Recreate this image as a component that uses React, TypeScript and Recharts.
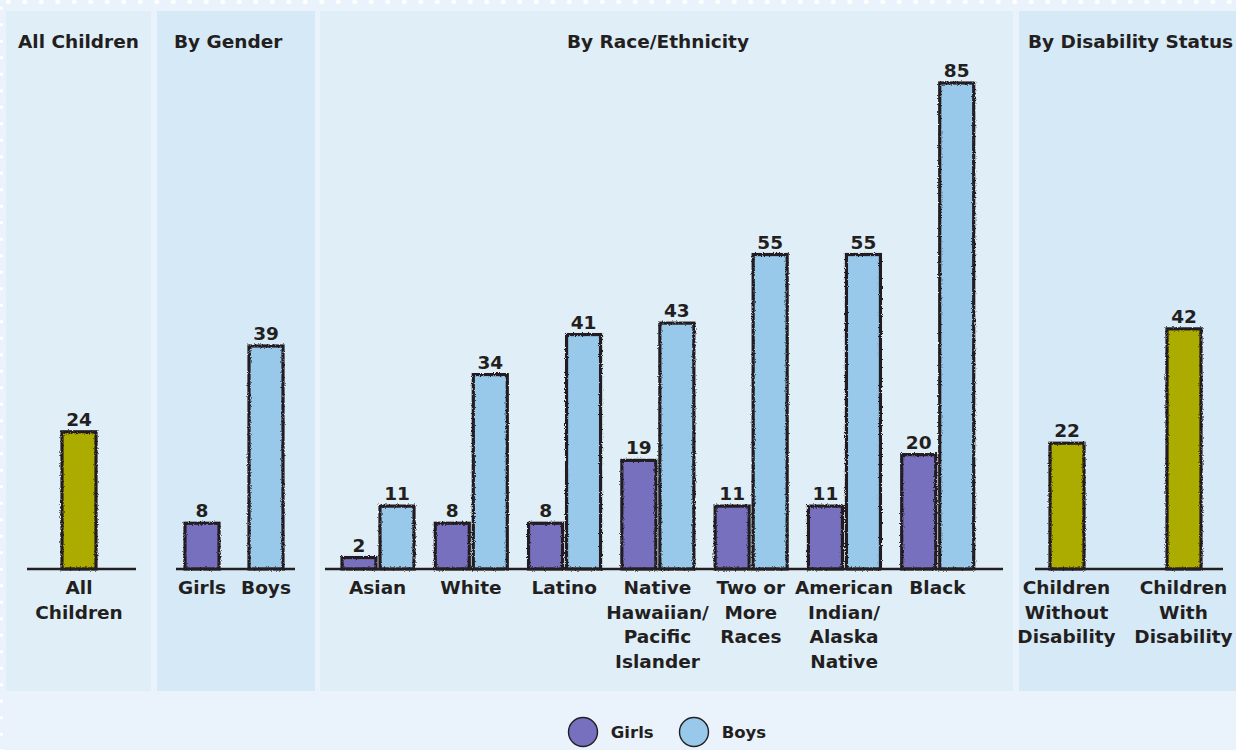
import React from 'react';
import { BarChart, Bar, XAxis, YAxis, Cell, LabelList, Legend } from 'recharts';

const allLabels = ['All\nChildren'];
const allValues = [24];

const genderLabels = ['Girls', 'Boys'];
const genderValues = [8, 39];

const raceLabels = [
  'Asian',
  'White',
  'Latino',
  'Native\nHawaiian/\nPacific\nIslander',
  'Two or\nMore\nRaces',
  'American\nIndian/\nAlaska\nNative',
  'Black',
];
const raceGirls = [2, 8, 8, 19, 11, 11, 20];
const raceBoys = [11, 34, 41, 43, 55, 55, 85];

const disabilityLabels = ['Children\nWithout\nDisability', 'Children\nWith\nDisability'];
const disabilityValues = [22, 42];

const OLIVE = '#abab00';
const PURPLE = '#7670bf';
const BLUE = '#98c9ea';
const INK = '#231f20';
const FONT = '"DejaVu Sans", Verdana, sans-serif';

const PANEL_LIGHT = '#e0eef8';
const PANEL_DARK = '#d6e9f7';

// shared vertical geometry so every panel sits on the same baseline
const CHART_H = 750;
const TOP = 83;
const BOTTOM = 151; // + 30px x-axis band = baseline at y 569
const DOMAIN: [number, number] = [0, 85];

const valueLabelStyle = { fontFamily: FONT, fontSize: 18.5, fontWeight: 700, fill: INK };

// filled bar with a roughened ink outline
const SketchBar = (props: any) => {
  const { x, y, width, height, fill } = props;
  if (width == null || height == null) return null;
  return (
    <g>
      <rect x={x} y={y} width={width} height={height} fill={fill} />
      <rect
        x={x}
        y={y}
        width={width}
        height={height}
        fill="none"
        stroke={INK}
        strokeWidth={3.2}
        filter="url(#sketchy)"
      />
    </g>
  );
};

const MultiLineTick = (props: any) => {
  const { x, y, payload } = props;
  const lines = String(payload.value).split('\n');
  return (
    <text
      x={x}
      y={y}
      textAnchor="middle"
      fill={INK}
      style={{ fontFamily: FONT, fontSize: 18.5, fontWeight: 700 }}
    >
      {lines.map((line, i) => (
        <tspan key={i} x={x} dy={i === 0 ? 25 : 24.7}>
          {line}
        </tspan>
      ))}
    </text>
  );
};

const LegendContent = (props: any) => {
  const { payload } = props;
  return (
    <div style={{ display: 'flex', justifyContent: 'center', alignItems: 'center' }}>
      {(payload || []).map((item: any, i: number) => (
        <div key={i} style={{ display: 'flex', alignItems: 'center', marginLeft: i === 0 ? 0 : 24 }}>
          <svg width={32} height={32}>
            <circle cx={16} cy={16} r={14.5} fill={item.color} stroke={INK} strokeWidth={1.4} />
          </svg>
          <span
            style={{ marginLeft: 12, fontFamily: FONT, fontSize: 16.5, fontWeight: 700, color: INK }}
          >
            {item.value}
          </span>
        </div>
      ))}
    </div>
  );
};

const axisProps = {
  tickLine: false,
  tickSize: 0,
  tickMargin: 0,
  interval: 0 as const,
  axisLine: { stroke: INK, strokeWidth: 2.6 },
  tick: <MultiLineTick />,
};

const Panel = ({ left, width, bg, title, titleLeft }: any) => (
  <div
    style={{ position: 'absolute', left, top: 11, width, height: 680, background: bg }}
  >
    <div
      style={{
        position: 'absolute',
        top: 20,
        left: titleLeft,
        fontFamily: FONT,
        fontSize: 18.5,
        fontWeight: 700,
        color: INK,
        whiteSpace: 'nowrap',
        lineHeight: '22px',
      }}
    >
      {title}
    </div>
  </div>
);

const App = () => {
  const allData = allLabels.map((name, i) => ({ name, value: allValues[i] }));
  const genderData = genderLabels.map((name, i) => ({ name, value: genderValues[i] }));
  const raceData = raceLabels.map((name, i) => ({ name, girls: raceGirls[i], boys: raceBoys[i] }));
  const disabilityData = disabilityLabels.map((name, i) => ({ name, value: disabilityValues[i] }));
  const genderColors = [PURPLE, BLUE];

  return (
    <div
      style={{
        position: 'absolute',
        left: 0,
        top: 0,
        width: 1236,
        height: 750,
        background: '#eaf3fb',
        overflow: 'hidden',
      }}
    >
      <svg width={0} height={0} style={{ position: 'absolute' }}>
        <defs>
          <filter id="sketchy" filterUnits="userSpaceOnUse" x={-50} y={-50} width={2000} height={1000}>
            <feTurbulence type="fractalNoise" baseFrequency="0.9" numOctaves={2} seed={3} result="noise" />
            <feDisplacementMap in="SourceGraphic" in2="noise" scale={3} xChannelSelector="R" yChannelSelector="G" />
          </filter>
        </defs>
      </svg>
      <div
        style={{
          position: 'absolute',
          left: 0,
          top: 0,
          width: 1236,
          height: 4,
          backgroundImage: 'radial-gradient(circle, #ffffff 2px, transparent 2.6px)',
          backgroundSize: '16.5px 4px',
        }}
      />
      <div
        style={{
          position: 'absolute',
          left: 0,
          top: 0,
          width: 3,
          height: 750,
          backgroundImage: 'radial-gradient(circle, #ffffff 1.6px, transparent 2px)',
          backgroundSize: '3px 16.5px',
        }}
      />

      <Panel left={6} width={145} bg={PANEL_LIGHT} title="All Children" titleLeft={12} />
      <Panel left={157} width={158} bg={PANEL_DARK} title="By Gender" titleLeft={17} />
      <Panel left={320} width={693} bg={PANEL_LIGHT} title="By Race/Ethnicity" titleLeft={247} />
      <Panel left={1019} width={240} bg={PANEL_DARK} title="By Disability Status" titleLeft={9} />

      {/* All children */}
      <div style={{ position: 'absolute', left: 6, top: 0 }}>
        <BarChart width={145} height={CHART_H} data={allData} margin={{ top: TOP, bottom: BOTTOM, left: 21, right: 15 }}>
          <XAxis dataKey="name" {...axisProps} padding={{ left: -5, right: 0 }} />
          <YAxis hide domain={DOMAIN} />
          <Bar dataKey="value" fill={OLIVE} barSize={34} shape={<SketchBar />} isAnimationActive={false}>
            <LabelList dataKey="value" position="top" offset={6} style={valueLabelStyle} />
          </Bar>
        </BarChart>
      </div>

      {/* By gender */}
      <div style={{ position: 'absolute', left: 157, top: 0 }}>
        <BarChart width={158} height={CHART_H} data={genderData} margin={{ top: TOP, bottom: BOTTOM, left: 19, right: 20 }}>
          <XAxis dataKey="name" {...axisProps} padding={{ left: -6, right: -3 }} />
          <YAxis hide domain={DOMAIN} />
          <Bar dataKey="value" barSize={34} shape={<SketchBar />} isAnimationActive={false}>
            {genderData.map((d, i) => (
              <Cell key={d.name} fill={genderColors[i]} />
            ))}
            <LabelList dataKey="value" position="top" offset={6} style={valueLabelStyle} />
          </Bar>
        </BarChart>
      </div>

      {/* By race/ethnicity */}
      <div style={{ position: 'absolute', left: 320, top: 0 }}>
        <BarChart
          width={693}
          height={CHART_H}
          data={raceData}
          margin={{ top: TOP, bottom: BOTTOM, left: 5, right: 10 }}
          barGap={4}
        >
          <XAxis dataKey="name" {...axisProps} padding={{ left: 6, right: 19 }} />
          <YAxis hide domain={DOMAIN} />
          <Legend
            layout="horizontal"
            verticalAlign="middle"
            align="center"
            itemSorter={null}
            wrapperStyle={{ top: 716, left: 0, width: 693 }}
            content={<LegendContent />}
          />
          <Bar dataKey="girls" name="Girls" fill={PURPLE} barSize={34} shape={<SketchBar />} isAnimationActive={false}>
            <LabelList dataKey="girls" position="top" offset={6} style={valueLabelStyle} />
          </Bar>
          <Bar dataKey="boys" name="Boys" fill={BLUE} barSize={34} shape={<SketchBar />} isAnimationActive={false}>
            <LabelList dataKey="boys" position="top" offset={6} style={valueLabelStyle} />
          </Bar>
        </BarChart>
      </div>

      {/* By disability status — svg starts a little left of the panel so the wide labels fit */}
      <div style={{ position: 'absolute', left: 999, top: 0 }}>
        <BarChart width={260} height={CHART_H} data={disabilityData} margin={{ top: TOP, bottom: BOTTOM, left: 36, right: 36 }}>
          <XAxis dataKey="name" {...axisProps} padding={{ left: -27, right: -19 }} />
          <YAxis hide domain={DOMAIN} />
          <Bar dataKey="value" fill={OLIVE} barSize={34} shape={<SketchBar />} isAnimationActive={false}>
            <LabelList dataKey="value" position="top" offset={6} style={valueLabelStyle} />
          </Bar>
        </BarChart>
      </div>
    </div>
  );
};

export default App;
